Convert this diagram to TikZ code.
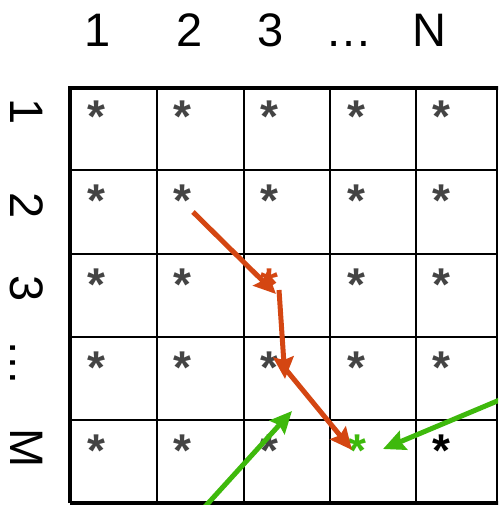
\documentclass[tikz,border=0pt]{standalone}
\usepackage{fontspec}
\setmainfont{Liberation Sans}
\usetikzlibrary{arrows.meta}
\definecolor{arrred}{RGB}{212,70,18}
\definecolor{arrgreen}{RGB}{62,185,12}
\definecolor{stargray}{RGB}{68,68,68}
\begin{document}
\begin{tikzpicture}[x=1pt,y=-1pt,
  lbl/.style={font=\fontsize{47}{47}\selectfont, inner sep=0pt, anchor=base},
  rowlbl/.style={lbl, rotate=-90},
  star/.style={font=\fontsize{46}{46}\selectfont, text=stargray, inner sep=0pt, anchor=base},
  gridline/.style={line width=2pt},
  border/.style={line width=4.5pt},
  redarrow/.style={draw=arrred, line width=5pt, -{Stealth[length=22pt,width=20pt,inset=3pt]}},
  greenarrow/.style={draw=arrgreen, line width=5pt, -{Stealth[length=22pt,width=20pt,inset=3pt]}}
]
\useasboundingbox (0,0) rectangle (498,505);
\clip (0,0) rectangle (498,505);
\fill[white] (0,0) rectangle (498,505);

% column labels
\node[lbl] (c1) at (98,47) {1};
\node[lbl] (c2) at (190,47) {2};
\node[lbl] (c3) at (271,47) {3};
\node[lbl] (cd) at (349,47) {…};
\node[lbl] (cN) at (429,47) {N};

% row labels
\node[rowlbl] (r1) at (10,112) {1};
\node[rowlbl] (r2) at (10,206) {2};
\node[rowlbl] (r3) at (10,289) {3};
\node[rowlbl] (rd) at (10,363) {…};
\node[rowlbl] (rM) at (10,448) {M};

% grid
\foreach \x in {157,244,330,416} \draw[gridline] (\x,88) -- (\x,503);
\foreach \y in {170,254,337,420} \draw[gridline] (70,\y) -- (497,\y);
\draw[gridline] (497,88) -- (497,503);
\draw[border] (70,503) -- (70,88) -- (499,88);
\draw[border] (70,503) -- (499,503);

% asterisks (regular weight drawn with a thin outline for stroke weight)
\foreach \c/\x in {1/96,2/182,3/269,4/356,5/441}{
  \foreach \r/\y in {1/107,2/190,3/274,4/357,5/440}{
    \pgfmathtruncatemacro{\skip}{(\r==3 && \c==3) || (\r==5 && \c>=4)}
    \ifnum\skip=0
      \node[star] (s\r\c) at (\x,\y+26) {\bfseries *};
    \fi
  }
}
\node[star, text=arrred] (sred) at (269,274+26) {\bfseries *};
\node[star, text=arrgreen] (sgreen) at (357,440+26) {\bfseries *};
\node[star, text=black] (sblack) at (441,440+26) {\bfseries *};

% arrows
\coordinate (ra) at (193,212);
\coordinate (rb) at (276,294);
\coordinate (rc) at (279,290);
\coordinate (rd2) at (285,379);
\coordinate (re) at (283,366);
\coordinate (rf) at (352,450);
\coordinate (ga) at (202,510);
\coordinate (gb) at (292,411);
\coordinate (gc) at (502,399);
\coordinate (gd) at (383,449);
\draw[redarrow] (ra) -- (rb);
\draw[redarrow] (rc) -- (rd2);
\draw[redarrow] (re) -- (rf);
\draw[greenarrow] (ga) -- (gb);
\draw[greenarrow] (gc) -- (gd);
\end{tikzpicture}
\end{document}
